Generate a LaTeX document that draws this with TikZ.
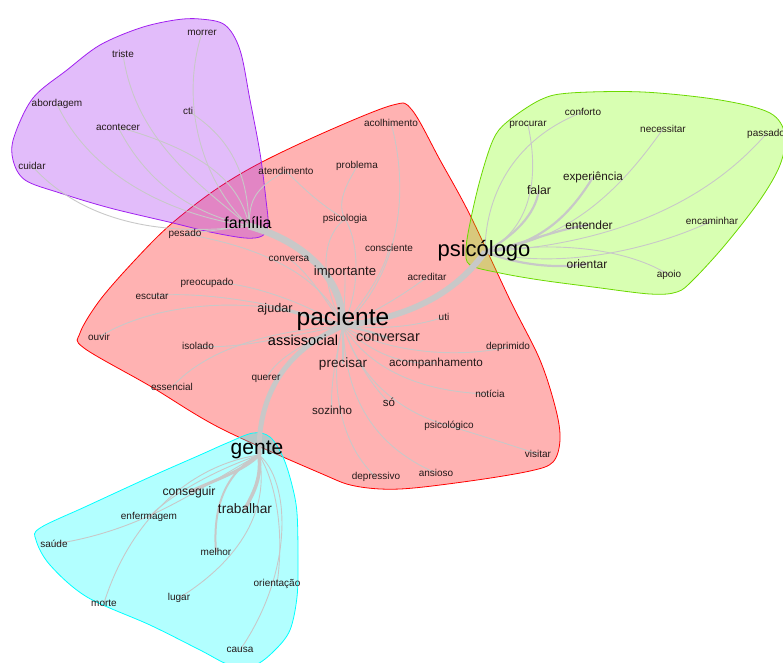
\documentclass[tikz,border=0pt]{standalone}
\usepackage{fontspec}
\setmainfont{Liberation Sans}
\pgfdeclarelayer{hulls}
\pgfdeclarelayer{edges}
\pgfsetlayers{hulls,edges,main}
\definecolor{edgegray}{RGB}{200,200,200}
\definecolor{txt}{RGB}{35,25,25}
\definecolor{hpurple}{RGB}{160,32,240}
\definecolor{hred}{RGB}{255,0,0}
\definecolor{hgreen}{RGB}{127,255,0}
\definecolor{hcyan}{RGB}{0,255,255}
\tikzset{
  w/.style={inner sep=0pt, text=txt, font=\fontsize{10}{10}\selectfont},
  fs/.style={font=\fontsize{#1}{#1}\selectfont},
  big/.style={inner sep=0pt, text=black, font=\fontsize{#1}{#1}\selectfont},
  e/.style={draw=edgegray, line width=0.9pt},
  em/.style={draw=edgegray, line width=2.2pt},
  et/.style={draw=edgegray, line width=#1},
  hull/.style={fill opacity=0.3, line width=0.8pt}
}
\begin{document}
\begin{tikzpicture}[x=1pt,y=-1pt]
\useasboundingbox (0,0) rectangle (783,662);

% ---------- hulls ----------
\begin{pgfonlayer}{hulls}
\filldraw[hull, fill=hred, draw=hred] plot[smooth cycle, tension=0.55] coordinates {
 (393,105) (412,110) (440,160) (470,215) (510,300) (540,360) (556,410) (560,440)
 (553,462) (530,471) (470,481) (400,489) (355,486) (320,473) (220,428) (150,386)
 (84,348) (80,333) (100,300) (135,260) (170,225) (215,190) (262,162) (330,130)};
\filldraw[hull, fill=hpurple, draw=hpurple] plot[smooth cycle, tension=0.55] coordinates {
 (200,19) (225,25) (240,50) (250,100) (260,153) (266,200) (268,225) (262,236)
 (245,238) (210,232) (173,223) (110,208) (60,193) (25,180) (13,160) (14,137)
 (33,98) (67,70) (100,45) (140,28) (175,20)};
\filldraw[hull, fill=hgreen, draw=hgreen!85!black] plot[smooth cycle, tension=0.55] coordinates {
 (507,122) (540,100) (570,93) (643,92) (720,100) (770,113) (785,135) (780,165)
 (760,200) (725,245) (693,280) (677,292) (650,294) (593,287) (540,280) (500,273)
 (470,265) (466,250) (470,223) (480,180) (493,140)};
\filldraw[hull, fill=hcyan, draw=hcyan] plot[smooth cycle, tension=0.55] coordinates {
 (253,433) (270,437) (283,457) (292,485) (297,513) (298,560) (297,597) (290,630)
 (275,650) (255,665) (230,665) (200,650) (150,625) (87,597) (50,565) (36,540)
 (40,528) (87,506) (150,477) (200,455) (227,443)};
\end{pgfonlayer}

% ---------- hubs ----------
\coordinate (P) at (343,326);
\coordinate (F) at (249,226);
\coordinate (S) at (485,252);
\coordinate (G) at (259,455);

% ---------- words ----------
% purple
\node[w] (morrer) at (202,33) {morrer};
\node[w] (triste) at (123,54) {triste};
\node[w] (abordagem) at (57,104) {abordagem};
\node[w] (cti) at (188,111) {cti};
\node[w] (acontecer) at (118,127) {acontecer};
\node[w] (cuidar) at (32,166) {cuidar};
\node[big=16] (familia) at (248,223) {família};
\node[w] (pesado) at (185,234) {pesado};
% red
\node[w] (acolhimento) at (391,123) {acolhimento};
\node[w] (atendimento) at (286,171) {atendimento};
\node[w] (problema) at (357,166) {problema};
\node[w] (psicologia) at (345,219) {psicologia};
\node[w] (consciente) at (389,248) {consciente};
\node[w] (conversa) at (289,259) {conversa};
\node[w, fs=13.2] (importante) at (345,272) {importante};
\node[w] (acreditar) at (427,277) {acreditar};
\node[w] (preocupado) at (207,283) {preocupado};
\node[w] (escutar) at (152,296) {escutar};
\node[w, fs=12.6] (ajudar) at (275,309) {ajudar};
\node[big=24.5] (paciente) at (343,319) {paciente};
\node[w] (uti) at (444,317) {uti};
\node[w] (ouvir) at (99,337) {ouvir};
\node[w] (isolado) at (198,346) {isolado};
\node[w, fs=14.5, text=black] (assissocial) at (303,340) {assissocial};
\node[w, fs=14.5] (conversar) at (388,338) {conversar};
\node[w] (deprimido) at (508,347) {deprimido};
\node[w, fs=13.5] (precisar) at (343,364) {precisar};
\node[w, fs=11.7] (acompanhamento) at (436,363) {acompanhamento};
\node[w] (essencial) at (172,387) {essencial};
\node[w] (querer) at (266,379) {querer};
\node[w] (noticia) at (490,394) {notícia};
\node[w, fs=11.5] (so) at (389,402) {só};
\node[w, fs=11.6] (sozinho) at (332,410) {sozinho};
\node[w] (psicologico) at (449,426) {psicológico};
\node[w] (visitar) at (538,454) {visitar};
\node[w] (ansioso) at (436,473) {ansioso};
\node[w] (depressivo) at (376,477) {depressivo};
% green
\node[w] (procurar) at (528,125) {procurar};
\node[w] (conforto) at (583,112) {conforto};
\node[w] (necessitar) at (663,129) {necessitar};
\node[w, anchor=west] (passado) at (747,134) {passado};
\node[w, fs=11.7] (experiencia) at (593,177) {experiência};
\node[w, fs=12.3] (falar) at (539,190) {falar};
\node[w, fs=12] (entender) at (589,225) {entender};
\node[w] (encaminhar) at (712,221) {encaminhar};
\node[big=22] (psicologo) at (484,251) {psicólogo};
\node[w, fs=12] (orientar) at (587,264) {orientar};
\node[w] (apoio) at (669,275) {apoio};
% cyan
\node[big=21] (gente) at (257,450) {gente};
\node[w, fs=12.2] (conseguir) at (189,492) {conseguir};
\node[w, fs=13.7] (trabalhar) at (245,509) {trabalhar};
\node[w] (enfermagem) at (149,517) {enfermagem};
\node[w] (saude) at (54,544) {saúde};
\node[w] (melhor) at (216,552) {melhor};
\node[w] (orientacao) at (277,584) {orientação};
\node[w] (morte) at (104,603) {morte};
\node[w] (lugar) at (179,598) {lugar};
\node[w] (causa) at (240,650) {causa};

% ---------- edges ----------
\begin{pgfonlayer}{edges}
% thick trunks
\draw[et=7pt] (F) .. controls (300,240) and (343,275) .. (P);
\draw[et=6pt] (P) .. controls (400,318) and (450,300) .. (S);
\draw[et=5pt] (P) .. controls (285,350) and (258,395) .. (G);
% purple
\draw[e] (morrer.center) .. controls (180,100) and (200,180) .. (F);
\draw[e] (triste.center) .. controls (135,140) and (200,185) .. (F);
\draw[e] (abordagem.center) .. controls (90,175) and (170,215) .. (F);
\draw[e] (cti.center) .. controls (235,140) and (248,180) .. (F);
\draw[e] (acontecer.center) .. controls (200,150) and (240,180) .. (F);
\draw[e] (acontecer.center) .. controls (150,190) and (200,215) .. (F);
\draw[e] (cuidar.center) .. controls (90,230) and (180,235) .. (F);
\draw[e] (atendimento.center) .. controls (250,190) and (250,205) .. (F);
\draw[e] (pesado.center) .. controls (250,245) and (320,270) .. (P);
\draw[e] (pesado.center) -- (F);
% red
\draw[e] (P) .. controls (345,300) and (345,285) .. (importante.center);
\draw[e] (P) .. controls (320,290) and (300,265) .. (conversa.center);
\draw[e] (P) .. controls (300,300) and (240,280) .. (preocupado.center);
\draw[e] (P) .. controls (290,305) and (200,290) .. (escutar.center);
\draw[em] (P) .. controls (310,318) and (290,310) .. (ajudar.center);
\draw[e] (P) .. controls (250,290) and (150,305) .. (ouvir.center);
\draw[e] (P) .. controls (290,335) and (240,350) .. (isolado.center);
\draw[e] (P) .. controls (280,330) and (210,345) .. (essencial.center);
\draw[em] (P) .. controls (330,335) .. (assissocial.center);
\draw[e] (P) .. controls (300,345) and (275,360) .. (querer.center);
\draw[em] (P) .. controls (365,330) .. (conversar.center);
\draw[e] (P) .. controls (390,330) and (420,325) .. (uti.center);
\draw[e] (P) .. controls (380,350) and (450,360) .. (deprimido.center);
\draw[e] (P) .. controls (370,352) and (400,365) .. (acompanhamento.center);
\draw[e] (P) .. controls (365,362) and (410,392) .. (noticia.center);
\draw[e] (P) .. controls (355,360) and (375,390) .. (so.center);
\draw[e] (P) .. controls (360,380) and (400,412) .. (psicologico.center);
\draw[e] (psicologico.center) .. controls (480,435) and (510,445) .. (visitar.center);
\draw[e] (P) .. controls (345,380) and (360,440) .. (ansioso.center);
\draw[e] (P) .. controls (330,370) and (335,440) .. (depressivo.center);
\draw[e] (P) .. controls (335,360) and (330,390) .. (sozinho.center);
\draw[em] (P) -- (precisar.center);
\draw[e] (P) .. controls (380,310) and (410,290) .. (acreditar.center);
\draw[e] (P) .. controls (365,300) and (385,270) .. (consciente.center);
\draw[e] (P) .. controls (322,285) and (318,240) .. (psicologia.center);
\draw[e] (P) .. controls (362,285) and (358,240) .. (psicologia.center);
\draw[e] (psicologia.center) .. controls (335,200) and (350,180) .. (problema.center);
\draw[e] (psicologia.center) .. controls (320,205) and (300,185) .. (atendimento.center);
\draw[e] (P) .. controls (395,280) and (412,200) .. (acolhimento.center);
% green
\draw[e] (procurar.center) .. controls (540,180) and (530,230) .. (S);
\draw[e] (conforto.center) .. controls (510,140) and (485,200) .. (S);
\draw[e] (necessitar.center) .. controls (620,190) and (570,240) .. (S);
\draw[e] (passado.center) .. controls (700,210) and (600,245) .. (S);
\draw[em] (experiencia.center) .. controls (570,215) and (540,245) .. (S);
\draw[em] (falar.center) .. controls (535,215) and (515,235) .. (S);
\draw[em] (entender.center) .. controls (560,228) and (520,245) .. (S);
\draw[e] (encaminhar.center) .. controls (650,250) and (560,270) .. (S);
\draw[em] (orientar.center) .. controls (550,270) and (510,262) .. (S);
\draw[e] (apoio.center) .. controls (630,250) and (560,240) .. (S);
% cyan
\draw[et=3.5pt] (G) .. controls (262,480) and (252,495) .. (trabalhar.center);
\draw[et=3pt] (G) .. controls (245,470) and (215,480) .. (conseguir.center);
\draw[et=2pt] (G) .. controls (230,470) and (212,500) .. (melhor.center);
\draw[e] (G) .. controls (215,470) and (170,495) .. (enfermagem.center);
\draw[e] (G) .. controls (210,480) and (150,530) .. (saude.center);
\draw[e] (G) .. controls (190,465) and (130,520) .. (morte.center);
\draw[e] (G) .. controls (270,510) and (240,560) .. (lugar.center);
\draw[e] (G) .. controls (275,480) and (285,530) .. (orientacao.center);
\draw[e] (G) .. controls (290,480) and (295,570) .. (causa.center);
\end{pgfonlayer}
\end{tikzpicture}
\end{document}
